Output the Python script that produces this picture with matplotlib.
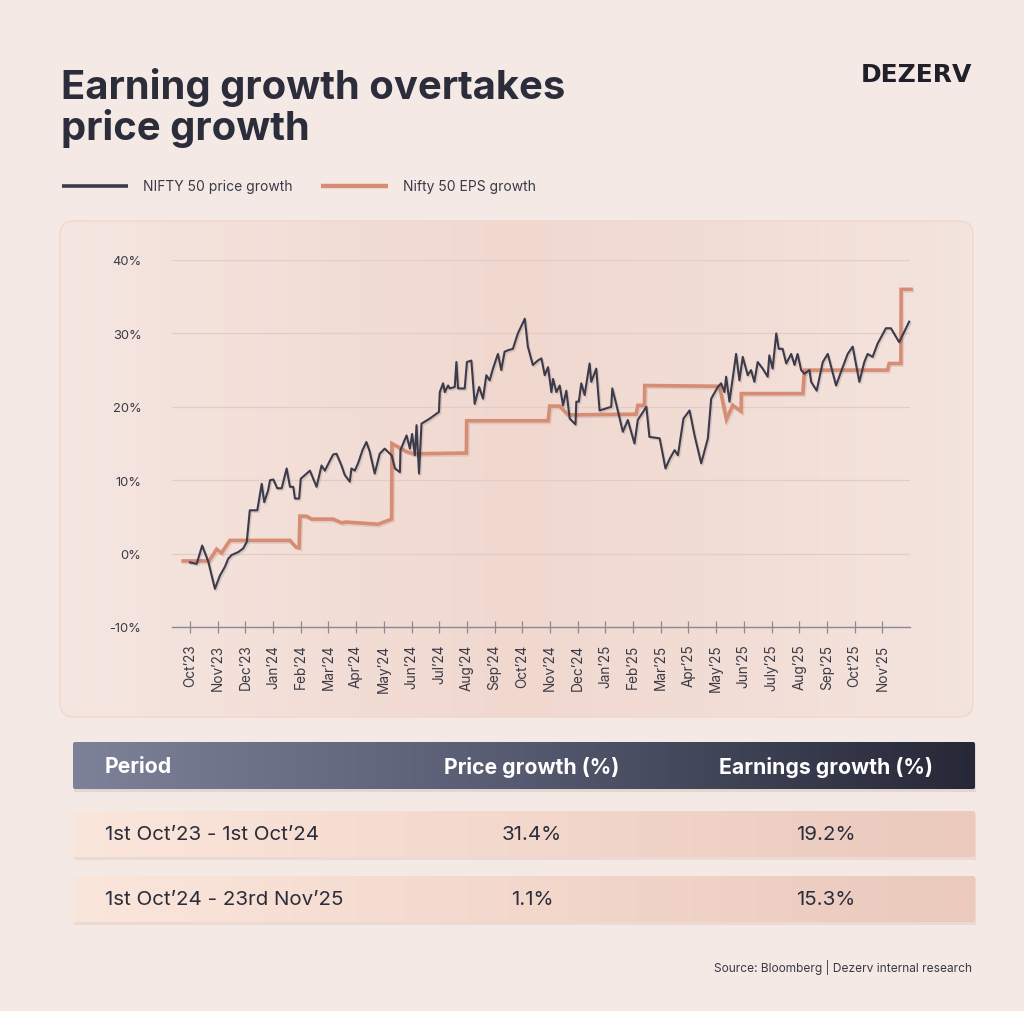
import numpy as np
import matplotlib
matplotlib.use('Agg')
import matplotlib.pyplot as plt
from matplotlib.patches import FancyBboxPatch, Rectangle
import matplotlib.patheffects as pe
from matplotlib.colors import to_rgb

plt.rcParams['font.family'] = ['Inter', 'DejaVu Sans']

# ---------------- data ----------------
month_labels = ["Oct’23", "Nov’23", "Dec’23", "Jan’24", "Feb’24", "Mar’24", "Apr’24",
                "May’24", "Jun’24", "Jul’24", "Aug’24", "Sep’24", "Oct’24", "Nov’24",
                "Dec’24", "Jan’25", "Feb’25", "Mar’25", "Apr’25", "May’25", "Jun’25",
                "July’25", "Aug’25", "Sep’25", "Oct’25", "Nov’25"]

# months since 1 Oct 2023 (fractional) and % growth
price_month = [0.00, 0.24, 0.44, 0.66, 0.90, 1.08, 1.26, 1.38, 1.50, 1.74, 1.92, 2.05,
               2.16, 2.43, 2.59, 2.68, 2.82, 2.89, 3.01, 3.15, 3.31, 3.49, 3.61, 3.73,
               3.79, 3.94, 4.00, 4.15, 4.33, 4.57, 4.75, 4.87, 5.03, 5.17, 5.29, 5.47,
               5.59, 5.77, 5.83, 5.95, 6.07, 6.23, 6.37, 6.49, 6.67, 6.85, 7.03, 7.28,
               7.40, 7.58, 7.60, 7.82, 7.94, 8.02, 8.12, 8.18, 8.27, 8.36, 8.66, 8.99,
               9.02, 9.14, 9.20, 9.32, 9.38, 9.56, 9.62, 9.68, 9.92, 10.00, 10.16, 10.28,
               10.44, 10.58, 10.70, 10.82, 10.94, 11.12, 11.24, 11.36, 11.48, 11.66, 11.84,
               12.09, 12.20, 12.38, 12.56, 12.69, 12.81, 12.93, 13.05, 13.11, 13.23, 13.35,
               13.47, 13.59, 13.71, 13.92, 13.95, 14.04, 14.13, 14.25, 14.43, 14.49, 14.67,
               14.79, 15.21, 15.25, 15.39, 15.63, 15.81, 16.05, 16.17, 16.48, 16.59, 16.96,
               17.17, 17.32, 17.50, 17.62, 17.82, 18.04, 18.22, 18.46, 18.70, 18.82, 19.06,
               19.18, 19.30, 19.36, 19.48, 19.72, 19.84, 19.96, 20.14, 20.26, 20.38, 20.50,
               20.68, 20.86, 20.92, 21.04, 21.17, 21.26, 21.40, 21.53, 21.71, 21.83, 21.94,
               22.07, 22.19, 22.37, 22.43, 22.63, 22.85, 23.03, 23.33, 23.57, 23.75, 23.93,
               24.17, 24.35, 24.47, 24.65, 24.83, 25.13, 25.31, 25.61, 25.97]
price_pct = [-1.2, -1.4, 1.1, -1.1, -4.8, -3.0, -1.8, -0.7, -0.2, 0.2, 0.7, 1.6,
             5.9, 5.9, 9.5, 7.0, 8.6, 10.0, 10.1, 8.9, 8.9, 11.6, 9.1, 9.1,
             7.5, 7.5, 10.2, 10.7, 11.3, 9.1, 12.0, 11.3, 12.5, 13.5, 13.6, 12.0,
             10.7, 9.8, 11.6, 11.3, 12.3, 14.1, 15.2, 13.9, 10.9, 13.6, 14.3, 13.4,
             11.6, 11.1, 14.1, 16.1, 14.3, 16.3, 13.4, 17.5, 10.9, 17.7, 18.4, 19.3,
             22.0, 23.2, 22.0, 22.9, 22.5, 22.7, 26.1, 22.5, 22.5, 26.1, 26.3, 20.4,
             22.7, 21.1, 24.3, 23.6, 25.2, 27.2, 25.0, 27.5, 27.7, 27.9, 30.0,
             32.0, 28.2, 25.7, 26.3, 26.6, 24.3, 25.4, 22.0, 23.8, 22.0, 22.9,
             20.2, 22.2, 18.4, 17.6, 20.7, 20.7, 23.2, 21.6, 25.9, 23.4, 25.2,
             19.5, 20.0, 22.5, 20.4, 16.6, 18.2, 15.0, 18.2, 20.0, 15.9, 15.7,
             11.6, 12.9, 14.1, 13.4, 18.4, 19.5, 16.1, 12.3, 15.7, 21.1, 22.7,
             23.2, 22.0, 24.1, 20.7, 27.2, 23.6, 26.8, 24.3, 25.0, 23.4, 26.1,
             25.2, 24.1, 27.0, 25.2, 30.0, 27.9, 27.9, 25.9, 27.2, 25.7, 27.2,
             25.0, 24.5, 25.0, 23.4, 22.2, 26.1, 27.2, 22.9, 25.4, 27.2, 28.2,
             23.4, 26.1, 27.2, 26.8, 28.6, 30.7, 30.7, 28.8, 31.6]

eps_month = [-0.25, 0.69, 0.96, 1.14, 1.44, 3.61, 3.82, 3.94, 3.97, 4.21, 4.39, 5.17,
             5.47, 5.65, 6.79, 7.28, 7.29, 7.82, 8.06, 9.98, 9.99, 12.93, 12.99, 13.35,
             13.65, 16.11, 16.17, 16.41, 16.42, 19.12, 19.37, 19.60, 19.90, 19.91, 22.13,
             22.19, 25.19, 25.25, 25.67, 25.68, 26.04]
eps_pct = [-1.0, -1.0, 0.6, 0.1, 1.8, 1.8, 0.9, 0.8, 5.1, 5.1, 4.7, 4.7,
           4.2, 4.3, 4.0, 4.7, 15.0, 13.9, 13.6, 13.7, 18.1, 18.1, 20.1, 20.1,
           18.9, 19.0, 20.2, 20.2, 22.9, 22.8, 18.3, 20.2, 19.4, 21.8, 21.8,
           25.0, 25.0, 25.9, 25.9, 36.0, 36.0]

y_ticks = [-10, 0, 10, 20, 30, 40]

table_header = ["Period", "Price growth (%)", "Earnings growth (%)"]
table_periods = ["1st Oct’23 - 1st Oct’24", "1st Oct’24 - 23rd Nov’25"]
table_price = ["31.4%", "1.1%"]
table_eps = ["19.2%", "15.3%"]

# ---------------- figure ----------------
W, H = 1024, 1012
fig = plt.figure(figsize=(W / 100, H / 100), dpi=100)
fig.patch.set_facecolor('#f5e9e5')
bg = fig.add_axes([0, 0, 1, 1], zorder=0)
bg.set_xlim(0, W)
bg.set_ylim(H, 0)
bg.axis('off')

DARK = '#2b2d3a'
TXT = '#3a3a46'


def gradient_box(x0, y0, x1, y1, stops, radius=0.0, z=1, edge='none', lw=0.0):
    patch = FancyBboxPatch((x0, y0), x1 - x0, y1 - y0,
                           boxstyle=f"round,pad=0,rounding_size={radius}",
                           facecolor='none', edgecolor=edge, linewidth=lw, zorder=z + 0.1)
    bg.add_patch(patch)
    t = np.linspace(0, 1, 256)
    pos = [s[0] for s in stops]
    cols = np.array([to_rgb(s[1]) for s in stops])
    arr = np.stack([np.interp(t, pos, cols[:, k]) for k in range(3)], axis=-1)[None, :, :]
    im = bg.imshow(arr, extent=(x0, x1, y1, y0), aspect='auto', zorder=z,
                   interpolation='bilinear')
    im.set_clip_path(patch)
    return patch


# chart panel
gradient_box(60, 222, 973, 718,
             [(0, '#f5e6e1'), (0.5, '#f0d8cf'), (1, '#f4e4de')],
             radius=14, z=1, edge='#f1d6ca', lw=1.0)

# table header (with shadow)
bg.add_patch(Rectangle((74, 746), 902, 47, facecolor='#cdb9b3', alpha=0.4,
                       edgecolor='none', zorder=1.5))
gradient_box(73, 743, 975, 790, [(0, '#7d8299'), (0.5, '#555a70'), (1, '#262837')],
             radius=2, z=2)
# rows
for y0 in (812, 877):
    bg.add_patch(Rectangle((74, y0 + 2), 902, 47, facecolor='#e3cdc5', alpha=0.5,
                           edgecolor='none', zorder=1.5))
    gradient_box(73, y0, 975, y0 + 46, [(0, '#fbe6db'), (1, '#ebc9bd')], radius=2, z=2)

# title
bg.text(61, 99, "Earning growth overtakes", fontsize=28.8, fontweight='bold',
        color=DARK, va='baseline', ha='left', zorder=5)
bg.text(61, 140, "price growth", fontsize=28.8, fontweight='bold',
        color=DARK, va='baseline', ha='left', zorder=5)

# logo
bg.text(972, 82, "DEZERV", fontsize=18, fontweight='bold', color='#1f2029',
        va='baseline', ha='right', family=['DejaVu Sans'], zorder=5)

# legend
bg.plot([62, 128], [187, 187], color='#3b3b4b', lw=2.6, solid_capstyle='butt', zorder=5)
bg.text(143, 187, "NIFTY 50 price growth", fontsize=10, color=TXT, va='center',
        ha='left', zorder=5)
bg.plot([321, 388], [187, 187], color='#d68d73', lw=3.2, solid_capstyle='butt', zorder=5)
bg.text(403, 187, "Nifty 50 EPS growth", fontsize=10, color=TXT, va='center',
        ha='left', zorder=5)

# table text
col_x = [105, 532, 826]
bg.text(col_x[0], 767, table_header[0], fontsize=15.3, fontweight='bold', color='white',
        va='center', ha='left', zorder=5)
bg.text(col_x[1], 767, table_header[1], fontsize=15.3, fontweight='bold', color='white',
        va='center', ha='center', zorder=5)
bg.text(col_x[2], 767, table_header[2], fontsize=15.3, fontweight='bold', color='white',
        va='center', ha='center', zorder=5)
for i, yc in enumerate((835, 900)):
    bg.text(col_x[0], yc, table_periods[i], fontsize=14.8, color=DARK, va='center',
            ha='left', zorder=5)
    bg.text(col_x[1], yc, table_price[i], fontsize=14.8, color=DARK, va='center',
            ha='center', zorder=5)
    bg.text(col_x[2], yc, table_eps[i], fontsize=14.8, color=DARK, va='center',
            ha='center', zorder=5)

# source
bg.text(972, 968, "Source: Bloomberg | Dezerv internal research", fontsize=8.6,
        color=TXT, va='center', ha='right', zorder=5)

bg.set_xlim(0, W)
bg.set_ylim(H, 0)

# ---------------- chart ----------------
ax = fig.add_axes([172 / W, 1 - 628 / H, (910 - 172) / W, (628 - 261) / H], zorder=3)
ax.patch.set_alpha(0)
ax.set_xlim(-0.65, 26.0)
ax.set_ylim(-10, 40)

ax.plot(eps_month, eps_pct, color='#d68d73', lw=2.6, zorder=3, clip_on=False,
        solid_joinstyle='miter',
        path_effects=[pe.SimpleLineShadow(offset=(1, -1.2), alpha=0.12, shadow_color='#6a4030'),
                      pe.Normal()])
ax.plot(price_month, price_pct, color='#3b3b4b', lw=1.5, zorder=4, clip_on=False,
        path_effects=[pe.SimpleLineShadow(offset=(1, -1.2), alpha=0.15, shadow_color='#4a3a3a'),
                      pe.Normal()])

ax.set_yticks(y_ticks)
ax.set_yticklabels([f"{v}%" for v in y_ticks])
ax.yaxis.grid(True, color='#e2cdc5', lw=0.9)
ax.set_axisbelow(True)
ax.set_xticks(range(len(month_labels)))
ax.set_xticklabels(month_labels, rotation=90)

for s in ('left', 'right', 'top'):
    ax.spines[s].set_visible(False)
ax.spines['bottom'].set_color('#8e8794')
ax.spines['bottom'].set_linewidth(1.0)

ax.tick_params(axis='x', direction='inout', length=8, width=0.9, color='#8e8794',
               labelsize=9.8, labelcolor=TXT, pad=8)
ax.tick_params(axis='y', length=0, pad=22, labelsize=9.3, labelcolor=TXT)

fig.savefig('out.png', dpi=100, facecolor=fig.get_facecolor())
